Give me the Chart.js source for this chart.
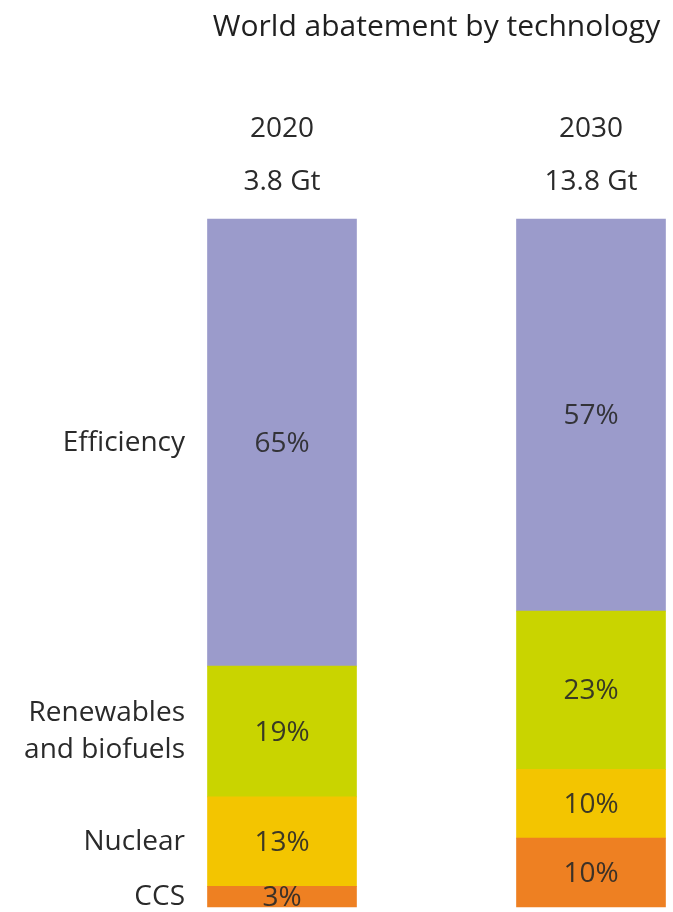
<!DOCTYPE html>
<html>
<head>
<meta charset="utf-8">
<script src="https://cdn.jsdelivr.net/npm/chart.js@4"></script>
<style>
  html, body { margin: 0; padding: 0; background: #ffffff; }
  #wrap { width: 673px; height: 912px; position: relative; }
</style>
</head>
<body>
<div id="wrap"><canvas id="c" width="673" height="912"></canvas></div>
<script>
// Share of world CO2 abatement by technology (%)
const years = ['2020', '2030'];
const totals = ['3.8 Gt', '13.8 Gt'];
const ccs = [3, 10];
const nuclear = [13, 10];
const renewables = [19, 23];
const efficiency = [65, 57];

const rowLabels = {
  'CCS': ['CCS'],
  'Nuclear': ['Nuclear'],
  'Renewables and biofuels': ['Renewables', 'and biofuels'],
  'Efficiency': ['Efficiency']
};

const FONT = '"Open Sans", "DejaVu Sans", sans-serif';
const TEXT = '#2a2a2a';

const textPlugin = {
  id: 'abatementText',
  afterDatasetsDraw(chart) {
    const ctx = chart.ctx;
    const xs = chart.scales.x;
    const cx0 = xs.getPixelForValue(0);
    const cx1 = xs.getPixelForValue(1);
    ctx.save();
    ctx.fillStyle = TEXT;
    ctx.textAlign = 'center';
    ctx.textBaseline = 'middle';

    // title
    ctx.font = '30px ' + FONT;
    ctx.fillStyle = '#1f1f1f';
    ctx.fillText('World abatement by technology', (cx0 + cx1) / 2, 27);

    // year and total above each bar
    ctx.fillStyle = TEXT;
    ctx.font = '28px ' + FONT;
    years.forEach((y, i) => {
      const x = xs.getPixelForValue(i);
      ctx.fillText(y, x, 129);
      ctx.fillText(totals[i], x, 182);
    });

    // percentages inside the segments, row names on the left
    chart.data.datasets.forEach((ds, di) => {
      const meta = chart.getDatasetMeta(di);
      meta.data.forEach((bar, i) => {
        const p = bar.getProps(['x', 'y', 'base'], true);
        const mid = (p.y + p.base) / 2;
        ctx.font = '28px ' + FONT;
        ctx.textAlign = 'center';
        ctx.fillStyle = 'rgba(40,40,40,0.9)';
        ctx.fillText(ds.data[i] + '%', p.x, mid + 1);
        if (i === 0) {
          const lines = rowLabels[ds.label];
          ctx.textAlign = 'right';
          ctx.fillStyle = TEXT;
          const lh = 37;
          lines.forEach((ln, li) => {
            ctx.fillText(ln, 185, mid + (li - (lines.length - 1) / 2) * lh);
          });
        }
      });
    });
    ctx.restore();
  }
};

new Chart(document.getElementById('c'), {
  type: 'bar',
  data: {
    labels: years,
    datasets: [
      { label: 'CCS', data: ccs, backgroundColor: '#ee8022' },
      { label: 'Nuclear', data: nuclear, backgroundColor: '#f3c500' },
      { label: 'Renewables and biofuels', data: renewables, backgroundColor: '#c9d400' },
      { label: 'Efficiency', data: efficiency, backgroundColor: '#9b9bcb' }
    ]
  },
  options: {
    responsive: false,
    animation: false,
    layout: { padding: { top: 219, bottom: 5, left: 282, right: 82 } },
    datasets: { bar: { barThickness: 149, clip: false, borderWidth: 0 } },
    scales: {
      x: { stacked: true, offset: false, display: false },
      y: { stacked: true, min: 0, max: 100, display: false }
    },
    plugins: { legend: { display: false }, tooltip: { enabled: false }, title: { display: false } }
  },
  plugins: [textPlugin]
});
</script>
</body>
</html>
